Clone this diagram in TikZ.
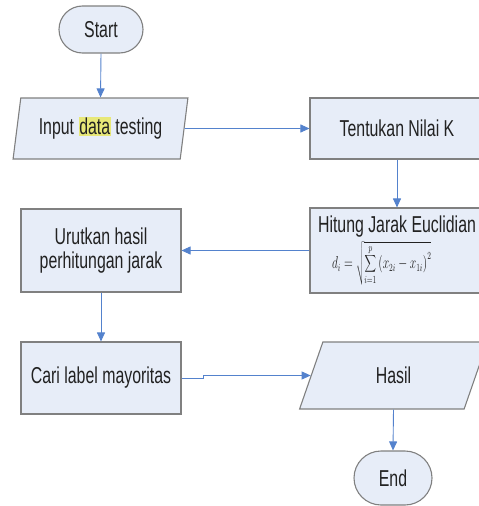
\documentclass[tikz,border=0pt]{standalone}
\usepackage{fontspec}
\setmainfont{Liberation Sans}[FakeStretch=0.69]
\usetikzlibrary{shapes.geometric,shapes.misc,arrows.meta}
\definecolor{boxfill}{RGB}{231,237,248}
\definecolor{boxline}{RGB}{128,128,128}
\definecolor{arrowc}{RGB}{84,130,205}
\definecolor{hl}{RGB}{232,232,120}
\definecolor{txt}{RGB}{34,34,34}
\begin{document}
\begin{tikzpicture}[x=1pt,y=-1pt,
  base/.style={draw=boxline,fill=boxfill,line width=1.1pt,text=txt,inner sep=0pt,
    font=\fontsize{23}{24}\selectfont,align=center},
  procbox/.style={base,rectangle},
  termbox/.style={base,rounded rectangle},
  iobox/.style={base,trapezium,trapezium stretches=true},
  flow/.style={draw=arrowc,line width=0.9pt,-{Triangle[length=9pt,width=8pt]}}]
\useasboundingbox (0,0) rectangle (479,506);
\node[termbox,minimum width=84pt,minimum height=47pt] (start) at (101,29.5) {Start};
\node[iobox,trapezium left angle=75,trapezium right angle=105,
  minimum width=175pt,minimum height=61pt] (input) at (100.5,128.5)
  {Input {\setlength\fboxsep{0.8pt}\colorbox{hl}{data}} testing};
\node[procbox,minimum width=174pt,minimum height=85pt,align=left] (hitung) at (397,250.5)
  {Hitung Jarak Euclidian\\[3pt]
   \hspace*{14pt}\scalebox{0.8}[1.2]{\fontsize{13.5}{14}\selectfont$\displaystyle d_i=\sqrt{\sum_{i=1}^{p}\left(x_{2i}-x_{1i}\right)^2}$}};
\node[procbox,minimum width=174pt,minimum height=61pt] (nilai) at (397,128.5) {Tentukan Nilai K};
\node[procbox,minimum width=160pt,minimum height=83pt] (urut) at (101,250.5) {Urutkan hasil\\perhitungan jarak};
\node[procbox,minimum width=160pt,minimum height=72pt] (cari) at (101,378) {Cari label mayoritas};
\node[iobox,trapezium left angle=71,trapezium right angle=109,
  minimum width=188pt,minimum height=67pt] (hasil) at (393.5,375.5) {Hasil};
\node[termbox,minimum width=78pt,minimum height=54pt] (end) at (393,478) {End};
\draw[flow] (start.south) -- (input.north);
\draw[flow] (input.east) -- (nilai.west);
\draw[flow] (nilai.south) -- (hitung.north);
\draw[flow] (hitung.west) -- (urut.east);
\draw[flow] (urut.south) -- (cari.north);
\draw[flow] (cari.east) -- ++(22,0) |- (hasil.west);
\draw[flow] (hasil.south) -- (end.north);
\end{tikzpicture}
\end{document}
